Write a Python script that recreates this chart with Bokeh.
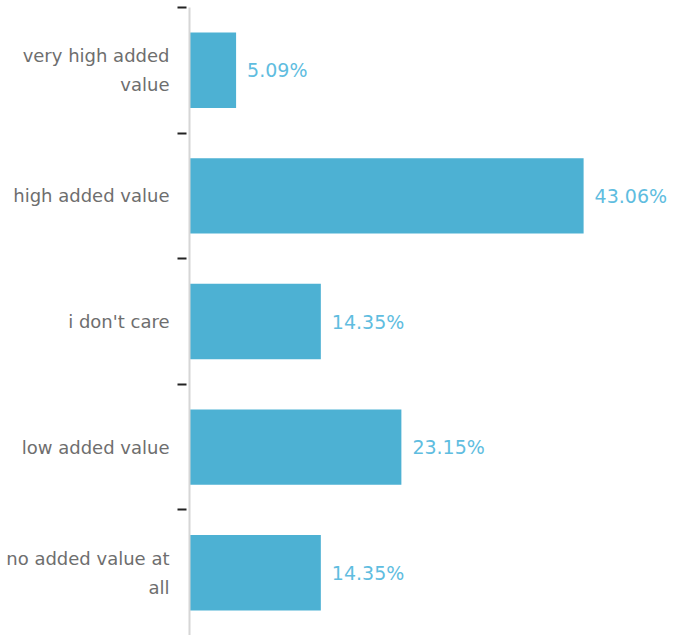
import textwrap
from bokeh.plotting import figure
from bokeh.models import Range1d, FixedTicker, ColumnDataSource, LabelSet
from bokeh.core.properties import value
from bokeh.embed import file_html
from bokeh.resources import INLINE

categories = ["very high added value", "high added value", "i don't care",
              "low added value", "no added value at all"]
values = [5.09, 43.06, 14.35, 23.15, 14.35]

FONT = "DejaVu Sans"
BAR = "#4db1d3"
TEXT_BLUE = "#5fbde0"

n = len(categories)
centers = [i + 0.5 for i in range(n)]
bounds = [float(i) for i in range(n)]  # last boundary lies off-page in reference
labels = [f"{v:.2f}%" for v in values]

src = ColumnDataSource(dict(y=centers, v=values, lab=labels))

p = figure(width=675, height=635, output_backend="svg", toolbar_location=None,
           x_range=Range1d(0, 53.1), y_range=Range1d(n, 0),
           x_axis_location=None, min_border_left=189, min_border_right=0,
           min_border_top=7, min_border_bottom=0)
p.outline_line_color = None
p.xgrid.visible = False
p.ygrid.visible = False

p.hbar(y="y", left=0, right="v", height=0.6, source=src,
       fill_color=BAR, line_color=None)

ax = p.yaxis[0]
ax.ticker = FixedTicker(ticks=centers, minor_ticks=bounds)
ax.major_label_overrides = {c: "\n".join(textwrap.wrap(t, 17))
                            for c, t in zip(centers, categories)}
ax.major_tick_line_color = None
ax.major_tick_in = 0
ax.major_tick_out = 0
ax.minor_tick_line_color = "#222222"
ax.minor_tick_line_width = 2
ax.minor_tick_in = -3
ax.minor_tick_out = 12
ax.axis_line_color = "#d6d6d6"
ax.axis_line_width = 2
ax.major_label_standoff = 8
ax.major_label_text_font = FONT
ax.major_label_text_font_size = "18px"
ax.major_label_text_color = "#6e6e6e"
ax.major_label_text_line_height = 1.38

vl = LabelSet(x="v", y="y", text="lab", source=src, x_offset=11,
              text_baseline="middle", text_align="left",
              text_font=value(FONT), text_font_size=value("19px"),
              text_color=TEXT_BLUE)
p.add_layout(vl)

open("out.html", "w").write(file_html(p, INLINE))
